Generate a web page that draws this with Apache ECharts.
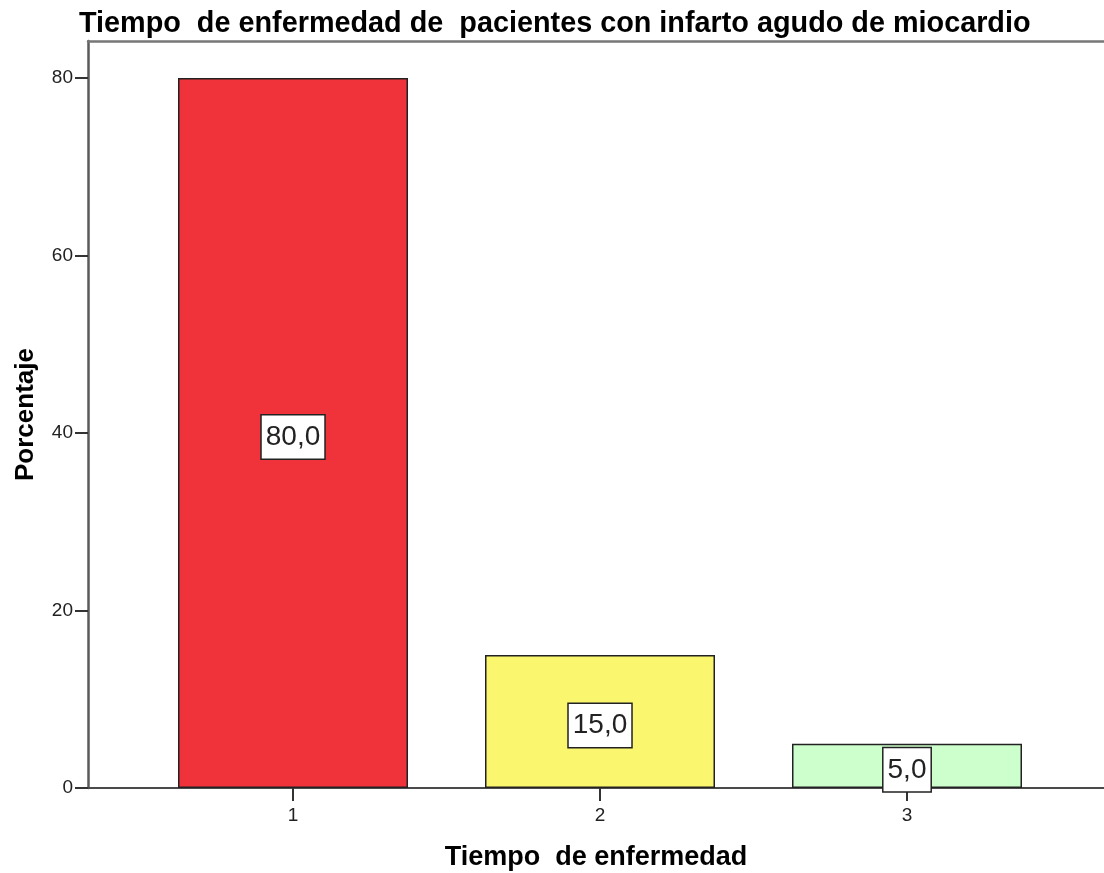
<!DOCTYPE html>
<html style="height: 100%">
   <head>
       <meta charset="utf-8">
   </head>
   <body style="height: 100%; margin: 0; background: #fff">
       <div id="container" style="width: 1104px; height: 873px"></div>
       <script type="text/javascript" src="https://cdn.jsdelivr.net/npm/echarts@6/dist/echarts.min.js"></script>
       <script type="text/javascript">
// data
var categories = [1, 2, 3];
var percentages = [80.0, 15.0, 5.0];
var barColors = ['#F0323A', '#FAF66E', '#CCFFCC'];
var yTicks = [0, 20, 40, 60, 80];

var dom = document.getElementById("container");
var myChart = echarts.init(dom);
var font = 'Liberation Sans, Arial, sans-serif';

var barData = categories.map(function (c, i) {
    return {
        value: [c, percentages[i]],
        itemStyle: { color: barColors[i] }
    };
});

var option = {
    backgroundColor: '#ffffff',
    animation: false,
    title: {
        text: 'Tiempo  de enfermedad de  pacientes con infarto agudo de miocardio',
        left: 74,
        top: 5,
        textStyle: { fontFamily: font, fontSize: 28.8, fontWeight: 'bold', color: '#000' }
    },
    grid: { left: 88, right: 0, top: 41, bottom: 85, outerBoundsMode: 'none' },
    xAxis: [{
        type: 'value',
        min: 0.3322,
        max: 3.6417,
        name: 'Tiempo  de enfermedad',
        nameLocation: 'middle',
        nameGap: 56,
        nameTextStyle: { fontFamily: font, fontSize: 27, fontWeight: 'bold', color: '#000' },
        splitLine: { show: false },
        axisLine: { show: true, lineStyle: { color: '#4a4a4a', width: 2 } },
        axisTick: { show: true, length: 13, customValues: categories, lineStyle: { color: '#333', width: 2 } },
        axisLabel: { customValues: categories, margin: 18, fontFamily: font, fontSize: 19, color: '#222' }
    }, {
        type: 'value',
        position: 'top',
        min: 0.3322,
        max: 3.6417,
        splitLine: { show: false },
        axisLine: { show: true, onZero: false, lineStyle: { color: '#777', width: 2.5 } },
        axisTick: { show: false },
        axisLabel: { show: false }
    }],
    yAxis: {
        type: 'value',
        min: 0,
        max: 84.17,
        name: 'Porcentaje',
        nameLocation: 'middle',
        nameGap: 49,
        nameTextStyle: { fontFamily: font, fontSize: 26, fontWeight: 'bold', color: '#000' },
        splitLine: { show: false },
        axisLine: { show: true, lineStyle: { color: '#5a5a5a', width: 2.5 } },
        axisTick: { show: true, length: 13, customValues: yTicks, lineStyle: { color: '#333', width: 2 } },
        axisLabel: { customValues: yTicks, margin: 15, fontFamily: font, fontSize: 19, color: '#222' }
    },
    series: [{
        type: 'bar',
        xAxisIndex: 0,
        barWidth: 230,
        data: barData,
        itemStyle: { borderColor: '#222', borderWidth: 1.5 },
        label: {
            show: true,
            position: 'inside',
            offset: [0, 4],
            formatter: function (p) {
                return p.value[1].toFixed(1).replace('.', ',');
            },
            fontFamily: font,
            fontSize: 28,
            color: '#222',
            backgroundColor: '#ffffff',
            borderColor: '#222',
            borderWidth: 1.5,
            padding: [8, 4, 7, 4]
        }
    }]
};

myChart.setOption(option);
       </script>
   </body>
</html>
